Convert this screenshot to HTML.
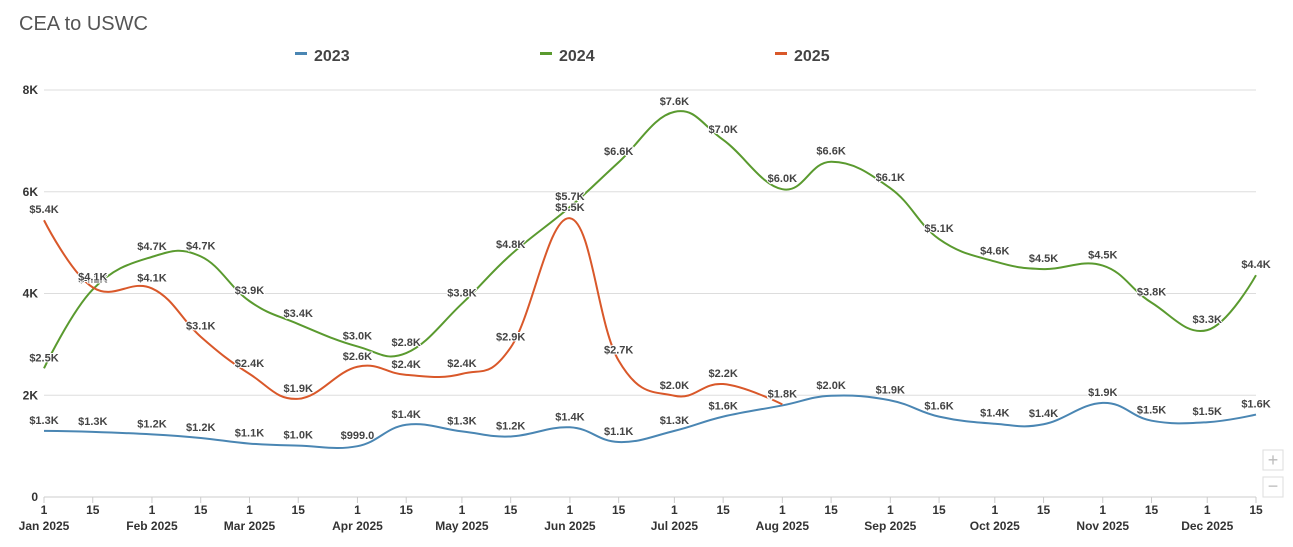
<!DOCTYPE html>
<html><head><meta charset="utf-8"><style>
body{margin:0;background:#fff;font-family:"Liberation Sans",sans-serif}
svg{display:block}
.lbl{font:bold 11px "Liberation Sans",sans-serif;fill:#444;paint-order:stroke;stroke:#fff;stroke-width:2px;stroke-linejoin:round}
.ax{font:bold 12px "Liberation Sans",sans-serif;fill:#333}
</style></head><body>
<svg id="chart" width="1293" height="547">
<text x="19" y="30" font-size="20" fill="#555">CEA to USWC</text>
<g id="legend"></g>
<g id="grid"></g>
<g id="series"></g>
<g id="labels"></g>
<g><rect x="1263" y="450" width="20" height="20" fill="#fff" stroke="#ddd"/><text x="1273" y="466" text-anchor="middle" font-size="18" fill="#bbb">+</text></g>
<g><rect x="1263" y="477" width="20" height="20" fill="#fff" stroke="#ddd"/><text x="1273" y="492" text-anchor="middle" font-size="18" fill="#bbb">−</text></g>
</svg>
<script>
const days=[0,14,31,45,59,73,90,104,120,134,151,165,181,195,212,226,243,257,273,287,304,318,334,348];
const tickLabels=["1","15","1","15","1","15","1","15","1","15","1","15","1","15","1","15","1","15","1","15","1","15","1","15"];
const monthLabels=["Jan 2025","Feb 2025","Mar 2025","Apr 2025","May 2025","Jun 2025","Jul 2025","Aug 2025","Sep 2025","Oct 2025","Nov 2025","Dec 2025"];
const yTicks=[0,2000,4000,6000,8000];
const yTickLabels=["0","2K","4K","6K","8K"];
const seriesNames=["2023","2024","2025"];
const colors=["#4a86b3","#5a9a2f","#d9582a"];
const s2023=[1300,1280,1230,1160,1050,1010,999,1420,1290,1190,1370,1080,1300,1580,1800,1990,1900,1580,1440,1430,1850,1500,1470,1620];
const s2024=[2530,4080,4720,4730,3850,3400,2960,2830,3800,4760,5700,6580,7570,7020,6050,6590,6070,5070,4630,4480,4550,3820,3280,4360];
const s2025=[5440,4120,4100,3150,2420,1930,2560,2400,2420,2940,5480,2680,1990,2220,1820];
const fmt=[null,null,null];
const X=d=>44+d*(1212/348), Y=v=>497-v*(407/8000);
const NS="http://www.w3.org/2000/svg";
function mk(p,t,a){const e=document.createElementNS(NS,t);for(const k in a)e.setAttribute(k,a[k]);p.appendChild(e);return e;}
const grid=document.getElementById('grid');
yTicks.forEach((v,i)=>{
 if(v>0){const l=mk(grid,'line',{x1:44,x2:1256,y1:Y(v),y2:Y(v),stroke:'#ddd'});}
 const t=mk(grid,'text',{x:38,y:Y(v)+4,'text-anchor':'end',class:'ax'});t.textContent=yTickLabels[i];
 
 
});
const ax=mk(grid,'line',{x1:44,x2:1256,y1:497,y2:497,stroke:'#ccc'});


days.forEach((d,i)=>{
 mk(grid,'line',{x1:X(d),x2:X(d),y1:497,y2:503,stroke:'#ccc'});
 const t=mk(grid,'text',{x:X(d),y:514,'text-anchor':'middle',class:'ax'});t.textContent=tickLabels[i];
 
 
 if(i%2===0){const m=mk(grid,'text',{x:X(d),y:530,'text-anchor':'middle',class:'ax'});m.textContent=monthLabels[i/2];
 
 }
});
const leg=document.getElementById('legend');
[295,540,775].forEach((x,i)=>{
 mk(leg,'rect',{x:x,y:52,width:12,height:3,fill:colors[i]});
 const t=mk(leg,'text',{x:x+19,y:61,'font-size':16,'font-weight':'bold',fill:'#444'});t.textContent=seriesNames[i];
 
 
});
function path(vals){
 const p=vals.map((v,i)=>[X(days[i]),Y(v)]);
 let d='M'+p[0][0]+','+p[0][1];
 const sm=1.5,den=sm+1;
 for(let i=1;i<p.length;i++){
  const a=p[i-1],b=p[i],pa=p[i-2]||a,nb=p[i+1]||b;
  // control points
  let c1x=a[0]+(b[0]-pa[0])/(den*2), c1y=a[1]+(b[1]-pa[1])/(den*2);
  let c2x=b[0]-(nb[0]-a[0])/(den*2), c2y=b[1]-(nb[1]-a[1])/(den*2);
  if(i===1){c1x=a[0];c1y=a[1];}
  if(i===p.length-1){c2x=b[0];c2y=b[1];}
  d+=` C${c1x},${c1y} ${c2x},${c2y} ${b[0]},${b[1]}`;
 }
 return d;
}
const sg=document.getElementById('series'),lg=document.getElementById('labels');
[s2023,s2024,s2025].forEach((vals,si)=>{
 const el=mk(sg,'path',{d:path(vals),fill:'none',stroke:colors[si],'stroke-width':2});
 
 
 vals.forEach((v,i)=>{
  const s=v<1000?'$'+v.toFixed(1):'$'+(v/1000).toFixed(1)+'K';
  const t=mk(lg,'text',{x:X(days[i]),y:Y(v)-7,'text-anchor':'middle',class:'lbl'});t.textContent=s;
  
  
 });
});
</script>
</body></html>
